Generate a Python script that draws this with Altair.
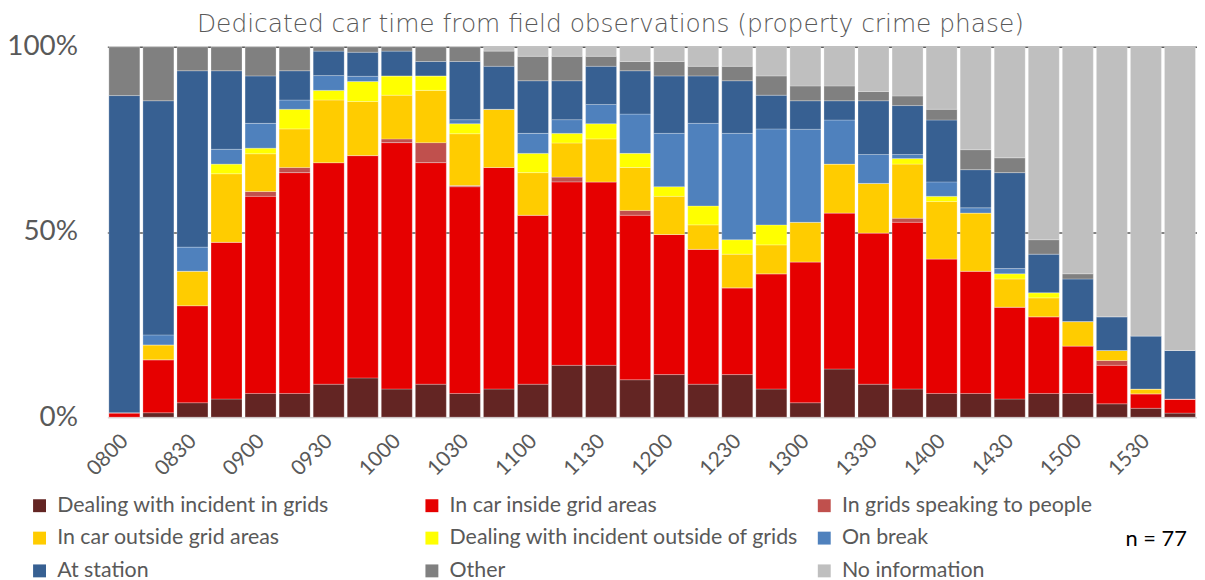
import altair as alt
import pandas as pd

FONT = "Lato"
GREY = "#595959"

times = ["0800", "0815", "0830", "0845", "0900", "0915", "0930", "0945",
         "1000", "1015", "1030", "1045", "1100", "1115", "1130", "1145",
         "1200", "1215", "1230", "1245", "1300", "1315", "1330", "1345",
         "1400", "1415", "1430", "1445", "1500", "1515", "1530", "1545"]
tick_labels = ["0800", "0830", "0900", "0930", "1000", "1030", "1100", "1130",
               "1200", "1230", "1300", "1330", "1400", "1430", "1500", "1530"]

categories = ["Dealing with incident in grids", "In car inside grid areas",
              "In grids speaking to people", "In car outside grid areas",
              "Dealing with incident outside of grids", "On break",
              "At station", "Other", "No information"]
colors = ["#632523", "#E60000", "#C0504D", "#FFCC00", "#FFFF00",
          "#4F81BD", "#376092", "#808080", "#BFBFBF"]

dealing_in_grids = [0, 1.2, 3.9, 4.9, 6.4, 6.4, 8.9, 10.6, 7.6, 8.9, 6.4, 7.6, 8.9, 14.0, 14.0, 10.1,
                    11.5, 8.9, 11.5, 7.6, 3.9, 13.0, 8.9, 7.6, 6.4, 6.4, 4.9, 6.4, 6.4, 3.6, 2.4, 1.1]
in_car_inside = [1.2, 14.3, 26.2, 42.3, 53.2, 59.6, 59.8, 60.0, 66.5, 59.8, 55.8, 59.8, 45.6, 49.5, 49.5, 44.4,
                 37.8, 36.4, 23.4, 31.1, 38.0, 42.1, 40.8, 45.0, 36.3, 33.0, 24.8, 20.7, 12.8, 10.4, 3.9, 3.8]
speaking = [0, 0, 0, 0, 1.3, 1.4, 0, 0, 1.0, 5.4, 0.3, 0, 0, 1.3, 0, 1.3,
            0, 0, 0, 0, 0, 0, 0, 1.1, 0, 0, 0, 0, 0, 1.3, 0, 0]
in_car_outside = [0, 4.0, 9.3, 18.5, 10.2, 10.4, 16.9, 14.6, 11.8, 14.1, 14.0, 15.7, 11.5, 9.2, 11.6, 11.6,
                  10.3, 6.6, 9.1, 7.8, 10.7, 13.2, 13.4, 14.6, 15.5, 15.7, 7.6, 5.1, 6.6, 2.7, 1.3, 0]
incident_outside = [0, 0, 0, 2.6, 1.5, 5.3, 2.6, 5.4, 5.2, 3.9, 2.7, 0, 5.2, 2.6, 4.1, 3.8,
                    2.6, 5.1, 3.9, 5.4, 0, 0, 0, 1.5, 1.4, 0, 1.4, 1.4, 0, 0, 0, 0]
on_break = [0, 2.7, 6.5, 4.0, 6.7, 2.5, 4.0, 1.4, 0, 0, 1.1, 0, 5.4, 3.7, 5.2, 10.6,
            14.4, 22.3, 28.7, 25.9, 25.1, 11.9, 7.8, 1.1, 3.9, 1.4, 1.4, 0, 0, 0, 0, 0]
at_station = [85.6, 63.2, 47.6, 21.2, 12.8, 7.9, 6.6, 6.5, 6.7, 3.9, 15.7, 11.6, 14.2, 10.5, 10.3, 11.7,
              15.5, 12.8, 14.2, 9.1, 7.7, 5.2, 14.5, 13.2, 16.7, 10.3, 25.9, 10.4, 11.5, 9.1, 14.3, 13.1]
other = [13.2, 14.6, 6.5, 6.5, 7.9, 6.5, 1.2, 1.5, 1.2, 4.0, 4.0, 4.1, 6.6, 6.6, 2.7, 2.5,
         3.9, 2.6, 3.9, 5.2, 4.0, 4.0, 2.5, 2.6, 2.9, 5.4, 4.0, 3.9, 1.4, 0, 0, 0]
no_information = [0, 0, 0, 0, 0, 0, 0, 0, 0, 0, 0, 1.2, 2.6, 2.6, 2.6, 4.0,
                  4.0, 5.3, 5.3, 7.9, 10.6, 10.6, 12.1, 13.3, 16.9, 27.8, 30.0, 52.1, 61.3, 72.9, 78.1, 82.0]

n_label = ["n = 77"]

series = [dealing_in_grids, in_car_inside, speaking, in_car_outside, incident_outside,
          on_break, at_station, other, no_information]

rows = []
for k, (cat, vals) in enumerate(zip(categories, series)):
    for t, v in zip(times, vals):
        rows.append({"time": t, "category": cat, "value": v, "k": k})
df = pd.DataFrame(rows)

bars = alt.Chart(df).mark_bar(stroke="white", strokeWidth=0.5, strokeOpacity=0.5).encode(
    x=alt.X("time:N", sort=times,
            scale=alt.Scale(paddingInner=0.09, paddingOuter=0.045),
            axis=alt.Axis(values=tick_labels, labelAngle=-45, title=None, ticks=False,
                          domain=False, grid=False, labelFontSize=21, labelColor=GREY,
                          labelFont=FONT, labelPadding=13, labelOffset=-7)),
    y=alt.Y("value:Q", stack="normalize",
            scale=alt.Scale(domain=[0, 1], nice=False),
            axis=alt.Axis(values=[0, 0.5, 1], format="%", title=None, ticks=False,
                          domain=False, labelFontSize=28, labelColor=GREY, labelFont=FONT,
                          labelPadding=30,
                          gridColor={"condition": {"test": "datum.value === 0", "value": "#D9D9D9"},
                                     "value": "#595959"},
                          gridWidth=1.5)),
    color=alt.Color("category:N", scale=alt.Scale(domain=categories, range=colors),
                    legend=alt.Legend(orient="none", legendX=-79, legendY=451, columns=3,
                                      direction="horizontal",
                                      title=None, symbolType="square", symbolSize=169,
                                      symbolStrokeWidth=0, symbolOpacity=1,
                                      labelFontSize=21.5, labelColor=GREY, labelFont=FONT,
                                      labelOffset=7, columnPadding=15, rowPadding=10,
                                      gridAlign="all", labelLimit=600)),
    order=alt.Order("k:Q", sort="ascending"),
)

ntext = alt.Chart(pd.DataFrame({"t": n_label})).mark_text(
    align="left", baseline="middle", fontSize=22, font=FONT, color="black"
).encode(x=alt.value(1133 - 108), y=alt.value(541 - 45), text="t:N")

chart = alt.layer(bars, ntext).properties(
    width=1097, height=373,
    padding={"left": 100, "top": 37, "right": 0, "bottom": 162},
    autosize=alt.AutoSizeParams(type="none"),
    title=alt.TitleParams("Dedicated car time from field observations (property crime phase)",
                          fontSize=25, font="'DejaVu Sans ExtraLight', 'DejaVu Sans'",
                          fontWeight=200, color=GREY,
                          anchor="middle", dx=-42, offset=-4),
).configure_view(stroke=None)

chart.save("out.html", embed_options={"renderer": "svg", "actions": False})
